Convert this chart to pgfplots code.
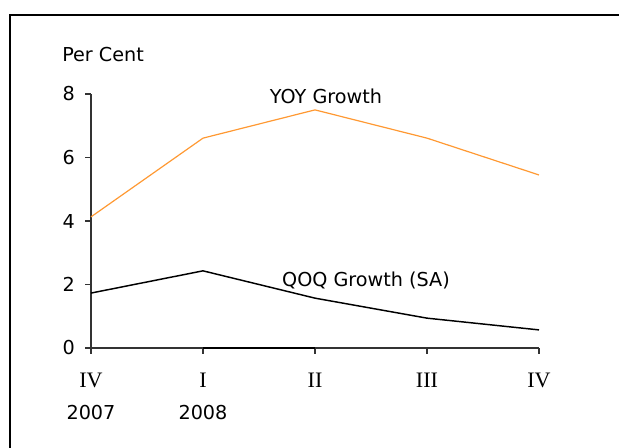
\documentclass[border=0pt]{standalone}
\usepackage{pgfplots}
\pgfplotsset{compat=1.18}
\usepackage{fontspec}
\setmainfont{DejaVu Sans}
\newfontfamily\romanfont[Scale=1.15]{Liberation Serif}
\definecolor{yoy}{RGB}{255,153,51}
\begin{document}
\begin{tikzpicture}
\begin{scope}[x=0.75pt,y=-0.75pt]
\useasboundingbox (0,0) rectangle (619,448);
\draw[line width=1.6pt] (10,470) -- (10,15) -- (640,15);
\coordinate (O) at (91,348);
\begin{scope}[font=\fontsize{14.4}{17}\selectfont]
\node[anchor=base west, inner sep=0] at (62,62) {Per Cent};
\node[anchor=base, inner sep=0] at (326,104) {YOY Growth};
\node[anchor=base, inner sep=0] at (366,287) {QOQ Growth (SA)};
\end{scope}
\end{scope}
\begin{axis}[at={(O)}, anchor=south west,
  scale only axis, width=336pt, height=190.5pt,
  xmin=0, xmax=4, ymin=0, ymax=8, enlargelimits=false,
  axis x line=bottom, axis y line=left,
  axis line style={-, line width=1pt, black!80},
  tick align=outside, major tick length=4.5pt,
  tick style={line width=1pt, black!80},
  ytick={0,2,4,6,8}, xtick={0,1,2,3,4},
  xticklabels={{{\romanfont IV}\\2007},{{\romanfont I}\\2008},{\romanfont II},{\romanfont III},{\romanfont IV}},
  xticklabel style={align=center, yshift=-11pt},
  yticklabel style={xshift=-4pt},
  ticklabel style={font=\fontsize{14.4}{24}\selectfont},
  /pgf/number format/assume math mode=true,
  clip=false]
\addplot[yoy, line width=0.9pt] coordinates {(0,4.13)(1,6.61)(2,7.5)(3,6.61)(4,5.45)};
\addplot[black, line width=1.1pt] coordinates {(0,1.73)(1,2.43)(2,1.57)(3,0.94)(4,0.57)};
\addplot[black, line width=1.8pt] coordinates {(1,0)(2,0)};
\end{axis}
\end{tikzpicture}
\end{document}
